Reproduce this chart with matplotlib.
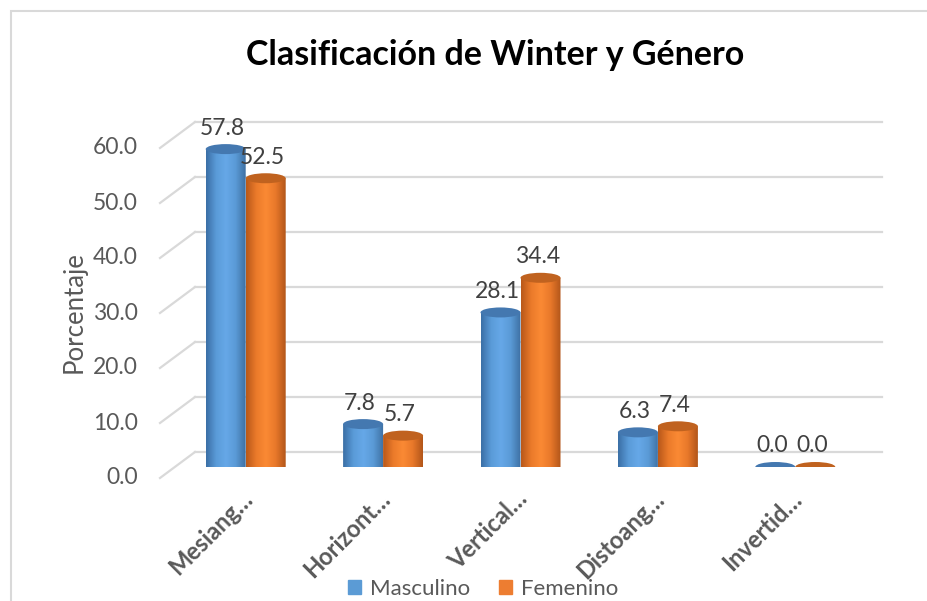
import numpy as np
import matplotlib
matplotlib.use('Agg')
import matplotlib.pyplot as plt
from matplotlib.patches import Ellipse, PathPatch, Rectangle
from matplotlib.path import Path
from matplotlib.colors import LinearSegmentedColormap

plt.rcParams['font.family'] = ['Lato', 'DejaVu Sans']

# Data
categories = ['Mesiang…', 'Horizont…', 'Vertical…', 'Distoang…', 'Invertid…']
masculino = [57.8, 7.8, 28.1, 6.3, 0.0]
femenino = [52.5, 5.7, 34.4, 7.4, 0.0]
yticks = [0, 10, 20, 30, 40, 50, 60]

W, H, DPI = 927, 601, 100
fig = plt.figure(figsize=(W / DPI, H / DPI), dpi=DPI)

# axes placed in pixel terms (mid depth plane of the 3D chart)
ax_l, ax_r, ax_b, ax_t = 177, 864, 467, 126
ax = fig.add_axes([ax_l / W, 1 - ax_b / H, (ax_r - ax_l) / W, (ax_b - ax_t) / H])
xmin, xmax, ymin, ymax = -0.5, 4.5, 0, 62
ax.set_axis_off()
px_x = (ax_r - ax_l) / (xmax - xmin)   # pixels per x unit
px_y = (ax_b - ax_t) / (ymax - ymin)   # pixels per y unit

# chart frame
fig.patches.append(Rectangle((11 / W, -0.1), 1.2, (H - 11) / H + 0.1, transform=fig.transFigure,
                             fill=False, edgecolor='#d9d9d9', linewidth=1.5))

# back wall gridlines + slanted floor edge
back_dx, back_dy = 18 / px_x, 15 / px_y
front_dx, front_dy = -17 / px_x, -11 / px_y
for v in yticks:
    ax.plot([xmin + back_dx, xmax + back_dx], [v + back_dy, v + back_dy],
            color='#d9d9d9', lw=1.6, clip_on=False, zorder=1)
    ax.plot([xmin + front_dx, xmin + back_dx], [v + front_dy, v + back_dy],
            color='#d9d9d9', lw=1.6, clip_on=False, zorder=1)
    ax.annotate(f'{v:.1f}', xy=(xmin, v), xytext=(-39, -11), textcoords='offset pixels',
                ha='right', va='center', fontsize=16.5, color='#595959', annotation_clip=False)


def cylinder(xc, val, w, body_cmap, top_color, z):
    eh = 10 / px_y
    x0, x1 = xc - w / 2, xc + w / 2
    if val > 0:
        t = np.linspace(np.pi, 2 * np.pi, 40)
        bottom = np.column_stack([xc + w / 2 * np.cos(t), eh / 2 * np.sin(t)])
        verts = np.vstack([[[x0, val]], bottom, [[x1, val]], [[x0, val]]])
        codes = [Path.MOVETO] + [Path.LINETO] * (len(verts) - 2) + [Path.CLOSEPOLY]
        clip = PathPatch(Path(verts, codes), facecolor='none', edgecolor='none')
        ax.add_patch(clip)
        grad = body_cmap(np.linspace(0, 1, 64))[None, :, :]
        im = ax.imshow(grad, extent=[x0, x1, -eh, val], aspect='auto', zorder=z,
                       interpolation='bicubic')
        im.set_clip_path(clip)
    ax.add_patch(Ellipse((xc, val), w, eh, facecolor=top_color, edgecolor='none', zorder=z + 0.5))


blue_cmap = LinearSegmentedColormap.from_list('b', ['#3b6fa6', '#5a9bd8', '#66a8e8', '#5a9ad6', '#3e70a3'])
orange_cmap = LinearSegmentedColormap.from_list('o', ['#b9581a', '#ea7a2a', '#fb8a34', '#e8782a', '#b3561a'])

w = 40 / px_x
off = 20 / px_x
x = np.arange(len(categories))
for i in x:
    cylinder(i - off, masculino[i], w, blue_cmap, '#4478b0', 3)
    cylinder(i + off, femenino[i], w, orange_cmap, '#c0621f', 3)
    for xc, val in [(i - off, masculino[i]), (i + off, femenino[i])]:
        ax.annotate(f'{val:.1f}', xy=(xc, val), xytext=(-3, 21), textcoords='offset pixels',
                    ha='center', va='center', fontsize=16.5, color='#404040', zorder=6)
    ax.annotate(categories[i], xy=(i, 0), xytext=(3, -28), textcoords='offset pixels',
                ha='right', va='center', rotation=45, rotation_mode='anchor',
                fontsize=17, fontweight='bold', color='#595959', annotation_clip=False)

ax.set_xlim(xmin, xmax)
ax.set_ylim(ymin, ymax)

fig.text(495 / W, 1 - 55 / H, 'Clasificación de Winter y Género', ha='center', va='center',
         fontsize=24.5, fontweight='bold', color='black')
fig.text(74 / W, 1 - 312 / H, 'Porcentaje', ha='center', va='center', rotation=90,
         fontsize=18.5, color='#595959')

handles = [Rectangle((0, 0), 1, 1, color='#5b9bd5'), Rectangle((0, 0), 1, 1, color='#ed7d31')]
fig.legend(handles, ['Masculino', 'Femenino'], loc='center', ncol=2,
           bbox_to_anchor=(483 / W, 1 - 589 / H), frameon=False, fontsize=16,
           handlelength=0.6, handleheight=0.6, handletextpad=0.4, columnspacing=1.3,
           labelcolor='#595959')

fig.savefig('out.png', dpi=DPI)
